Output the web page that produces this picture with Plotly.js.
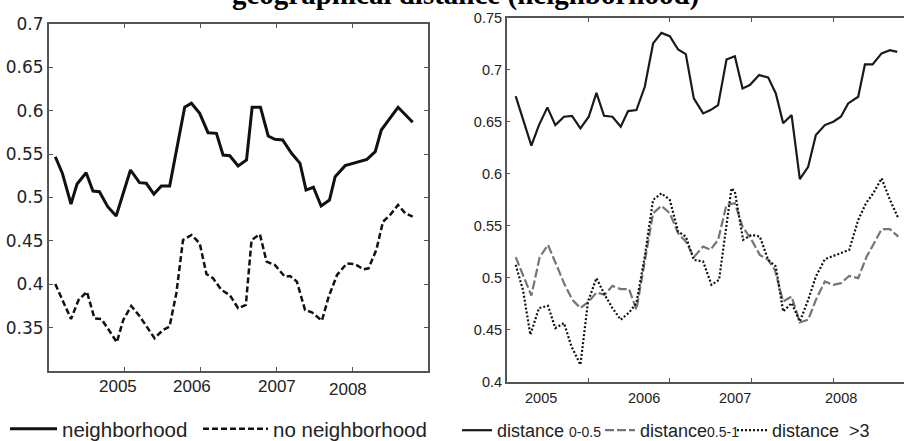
<!DOCTYPE html>
<html>
<head>
<meta charset="utf-8">
<script src="https://cdn.plot.ly/plotly-3.0.1.min.js"></script>
<style>html,body{margin:0;padding:0;background:#fff;}#chart{width:904px;height:441px;}</style>
</head>
<body>
<div id="chart"></div>
<script>
// ---------- data ----------
const chartTitle = 'geographical distance (neighborhood)';
const yearTicks = [2005, 2006, 2007, 2008];
const yearLabels = ['2005', '2006', '2007', '2008'];

const leftYTicks = [0.35, 0.4, 0.45, 0.5, 0.55, 0.6, 0.65, 0.7];
const leftYLabels = ['0.35', '0.4', '0.45', '0.5', '0.55', '0.6', '0.65', '0.7'];
const rightYTicks = [0.4, 0.45, 0.5, 0.55, 0.6, 0.65, 0.7, 0.75];
const rightYLabels = ['0.4', '0.45', '0.5', '0.55', '0.6', '0.65', '0.7', '0.75'];

const seriesNames = ['neighborhood', 'no neighborhood',
  'distance <span style="font-size:14px">0-0.5</span>',
  'distance<span style="font-size:14px">0.5-1</span>',
  'distance&nbsp;&nbsp;>3'];

// left panel
const neighX = [2004.083, 2004.176, 2004.29, 2004.37, 2004.49, 2004.58, 2004.665, 2004.775, 2004.886, 2005.075, 2005.194, 2005.283, 2005.384, 2005.482, 2005.592, 2005.79, 2005.879, 2005.988, 2006.098, 2006.209, 2006.296, 2006.385, 2006.495, 2006.606, 2006.68, 2006.79, 2006.892, 2006.98, 2007.083, 2007.2, 2007.312, 2007.391, 2007.488, 2007.59, 2007.7, 2007.775, 2007.907, 2008.017, 2008.106, 2008.194, 2008.304, 2008.384, 2008.48, 2008.605, 2008.798];
const neighY = [0.547, 0.528, 0.4925, 0.5156, 0.5286, 0.5075, 0.5067, 0.4894, 0.4787, 0.5317, 0.5171, 0.5164, 0.504, 0.5133, 0.5133, 0.604, 0.6086, 0.597, 0.5747, 0.574, 0.549, 0.5482, 0.5363, 0.5432, 0.604, 0.604, 0.5709, 0.5671, 0.5663, 0.551, 0.5394, 0.5086, 0.5118, 0.4902, 0.4971, 0.524, 0.5367, 0.5394, 0.5413, 0.544, 0.5528, 0.5778, 0.5893, 0.604, 0.5867];

const noNeighX = [2004.083, 2004.29, 2004.39, 2004.5, 2004.6, 2004.69, 2004.775, 2004.894, 2004.98, 2005.085, 2005.194, 2005.393, 2005.503, 2005.59, 2005.68, 2005.768, 2005.879, 2005.988, 2006.077, 2006.164, 2006.275, 2006.385, 2006.495, 2006.597, 2006.672, 2006.782, 2006.871, 2006.98, 2007.112, 2007.18, 2007.27, 2007.378, 2007.467, 2007.6, 2007.69, 2007.8, 2007.93, 2008.04, 2008.15, 2008.216, 2008.318, 2008.406, 2008.5, 2008.605, 2008.7, 2008.798];
const noNeighY = [0.4003, 0.3599, 0.3818, 0.3914, 0.3607, 0.36, 0.3492, 0.3331, 0.3588, 0.3749, 0.3634, 0.3377, 0.3473, 0.3511, 0.3896, 0.451, 0.4568, 0.4472, 0.4118, 0.4069, 0.3934, 0.3876, 0.3723, 0.3761, 0.451, 0.4576, 0.426, 0.4222, 0.4087, 0.4095, 0.403, 0.3703, 0.3677, 0.358, 0.3857, 0.4107, 0.4241, 0.423, 0.4172, 0.4184, 0.4395, 0.4721, 0.4798, 0.4914, 0.4818, 0.4779];

// right panel
const d05X = [2004.115, 2004.307, 2004.4, 2004.503, 2004.6, 2004.706, 2004.804, 2004.907, 2005.009, 2005.103, 2005.196, 2005.299, 2005.4, 2005.49, 2005.592, 2005.694, 2005.796, 2005.898, 2006.0, 2006.102, 2006.196, 2006.294, 2006.408, 2006.498, 2006.591, 2006.694, 2006.796, 2006.89, 2006.979, 2007.093, 2007.203, 2007.297, 2007.387, 2007.49, 2007.591, 2007.693, 2007.787, 2007.897, 2008.0, 2008.093, 2008.182, 2008.305, 2008.387, 2008.481, 2008.591, 2008.693, 2008.782];
const d05Y = [0.6745, 0.6269, 0.6467, 0.6637, 0.6467, 0.6547, 0.6556, 0.6436, 0.6547, 0.6777, 0.6556, 0.6547, 0.6451, 0.6601, 0.6611, 0.6835, 0.7251, 0.7352, 0.7321, 0.7193, 0.7148, 0.6723, 0.6579, 0.6611, 0.6659, 0.7097, 0.7129, 0.6819, 0.6851, 0.6947, 0.6925, 0.6771, 0.6484, 0.6563, 0.5947, 0.6067, 0.6371, 0.6467, 0.6499, 0.6547, 0.6675, 0.6739, 0.7049, 0.7049, 0.7155, 0.7186, 0.717];

const d051X = [2004.115, 2004.307, 2004.409, 2004.51, 2004.613, 2004.715, 2004.809, 2004.907, 2005.009, 2005.103, 2005.204, 2005.299, 2005.4, 2005.502, 2005.592, 2005.694, 2005.796, 2005.898, 2006.0, 2006.102, 2006.196, 2006.294, 2006.408, 2006.498, 2006.591, 2006.694, 2006.796, 2006.89, 2007.0, 2007.101, 2007.203, 2007.285, 2007.387, 2007.49, 2007.591, 2007.693, 2007.787, 2007.897, 2008.0, 2008.093, 2008.195, 2008.305, 2008.408, 2008.489, 2008.591, 2008.693, 2008.795];
const d051Y = [0.5199, 0.483, 0.5199, 0.5317, 0.5125, 0.4933, 0.4789, 0.471, 0.4773, 0.4859, 0.4837, 0.4923, 0.4892, 0.4892, 0.4693, 0.5141, 0.5621, 0.5691, 0.5621, 0.5429, 0.5348, 0.5199, 0.53, 0.5269, 0.5365, 0.5701, 0.5717, 0.5492, 0.5365, 0.5221, 0.5173, 0.5077, 0.4773, 0.4821, 0.4572, 0.4598, 0.4789, 0.4965, 0.4933, 0.4949, 0.5019, 0.4997, 0.5205, 0.5317, 0.5467, 0.5467, 0.5396];

const d3X = [2004.115, 2004.204, 2004.295, 2004.4, 2004.51, 2004.6, 2004.706, 2004.797, 2004.907, 2005.0, 2005.103, 2005.204, 2005.299, 2005.4, 2005.502, 2005.592, 2005.694, 2005.796, 2005.898, 2006.0, 2006.102, 2006.196, 2006.294, 2006.408, 2006.51, 2006.603, 2006.755, 2006.796, 2006.897, 2007.0, 2007.101, 2007.203, 2007.297, 2007.387, 2007.49, 2007.591, 2007.693, 2007.787, 2007.897, 2008.0, 2008.101, 2008.195, 2008.305, 2008.4, 2008.489, 2008.591, 2008.693, 2008.795];
const d3Y = [0.5125, 0.4885, 0.4454, 0.471, 0.4732, 0.4518, 0.4566, 0.4342, 0.4166, 0.4773, 0.4997, 0.4837, 0.471, 0.4598, 0.4667, 0.4758, 0.5205, 0.5749, 0.5812, 0.5749, 0.5445, 0.5396, 0.5173, 0.5157, 0.4933, 0.4981, 0.586, 0.5828, 0.5365, 0.5413, 0.5397, 0.5173, 0.5109, 0.4677, 0.4758, 0.4581, 0.4789, 0.5013, 0.5179, 0.5211, 0.5237, 0.5269, 0.5556, 0.5717, 0.5812, 0.5956, 0.5749, 0.5573];

// ---------- styles ----------
const W = 904, H = 441;
const px = v => v / W;
const py = v => 1 - v / H;
const axisCol = '#555';
const txtCol = '#222';
const sans = 'Liberation Sans, Arial, sans-serif';

const traces = [
  {x: neighX, y: neighY, xaxis: 'x', yaxis: 'y', mode: 'lines', name: seriesNames[0],
   line: {color: '#111', width: 3}, legend: 'legend'},
  {x: noNeighX, y: noNeighY, xaxis: 'x', yaxis: 'y', mode: 'lines', name: seriesNames[1],
   line: {color: '#111', width: 2.5, dash: '6px,3px'}, legend: 'legend2'},
  {x: d05X, y: d05Y, xaxis: 'x2', yaxis: 'y2', mode: 'lines', name: seriesNames[2],
   line: {color: '#1a1a1a', width: 2.2}, legend: 'legend3'},
  {x: d051X, y: d051Y, xaxis: 'x2', yaxis: 'y2', mode: 'lines', name: seriesNames[3],
   line: {color: '#757575', width: 2.2, dash: '9px,3px'}, legend: 'legend4'},
  {x: d3X, y: d3Y, xaxis: 'x2', yaxis: 'y2', mode: 'lines', name: seriesNames[4],
   line: {color: '#111', width: 2.2, dash: '2px,2px'}, legend: 'legend5'}
];

const baseX = {showgrid: false, zeroline: false, showline: true, linecolor: axisCol, linewidth: 2,
  ticks: 'inside', ticklen: 4, tickwidth: 1, tickcolor: axisCol, mirror: 'ticks',
  tickvals: yearTicks, showticklabels: false, fixedrange: true, automargin: false};

const annotations = [
  {text: '<b>' + chartTitle + '</b>', xref: 'paper', yref: 'paper', x: px(465), y: py(-5),
   xanchor: 'center', yanchor: 'middle', showarrow: false,
   font: {family: 'Liberation Serif, Times New Roman, serif', size: 29, color: '#000'}}
];
const leftShift = [-7, -9, 1, -4];
const leftYShift = [0, 0, 0, -3];
const rightShift = [-47, -26, -17, 8];
yearTicks.forEach((t, i) => {
  annotations.push({text: yearLabels[i], xref: 'x', yref: 'paper', x: t, y: py(386.5),
    xshift: leftShift[i], yshift: leftYShift[i], xanchor: 'center', yanchor: 'middle', showarrow: false,
    font: {family: sans, size: 17, color: txtCol}});
  annotations.push({text: yearLabels[i], xref: 'x2', yref: 'paper', x: t, y: py(398),
    xshift: rightShift[i], xanchor: 'center', yanchor: 'middle', showarrow: false,
    font: {family: sans, size: 14.5, color: txtCol}});
});

function leg(x, size, iw) {
  return {orientation: 'h', x: px(x), y: -8 / H, xanchor: 'left', yanchor: 'bottom',
    font: {family: sans, size: size, color: txtCol}, bgcolor: 'rgba(0,0,0,0)', itemwidth: iw,
    borderwidth: 0, tracegroupgap: 0};
}

const layout = {
  width: W, height: H,
  margin: {l: 0, r: 0, t: 0, b: 0, pad: 0, autoexpand: false},
  paper_bgcolor: '#fff', plot_bgcolor: '#fff',
  showlegend: true,
  xaxis: Object.assign({}, baseX, {domain: [px(49), px(428)], range: [2004.0, 2009.0], anchor: 'y'}),
  yaxis: {domain: [py(371), py(24)], range: [0.3, 0.7], anchor: 'x', showgrid: false, zeroline: false,
    showline: true, linecolor: axisCol, linewidth: 2, ticks: 'inside', ticklen: 4, tickcolor: axisCol,
    mirror: 'ticks', tickvals: leftYTicks, ticktext: leftYLabels, fixedrange: true, automargin: false,
    tickfont: {family: 'DejaVu Sans, sans-serif', size: 17, color: txtCol}},
  xaxis2: Object.assign({}, baseX, {domain: [px(507), 1], range: [2004.009, 2008.865], anchor: 'y2'}),
  yaxis2: {domain: [py(382), py(17.5)], range: [0.4, 0.75], anchor: 'x2', showgrid: false, zeroline: false,
    showline: true, linecolor: axisCol, linewidth: 2, ticks: 'inside', ticklen: 3, tickcolor: axisCol,
    mirror: false, tickvals: rightYTicks, ticktext: rightYLabels, fixedrange: true, automargin: false,
    tickfont: {family: sans, size: 14.5, color: txtCol}},
  legend: leg(5, 20.5, 47),
  legend2: leg(198, 20.5, 65),
  legend3: leg(457, 18, 30),
  legend4: leg(600, 18, 30),
  legend5: leg(732, 18, 30),
  annotations: annotations
};

Plotly.newPlot('chart', traces, layout, {staticPlot: true, displayModeBar: false});
</script>
</body>
</html>
